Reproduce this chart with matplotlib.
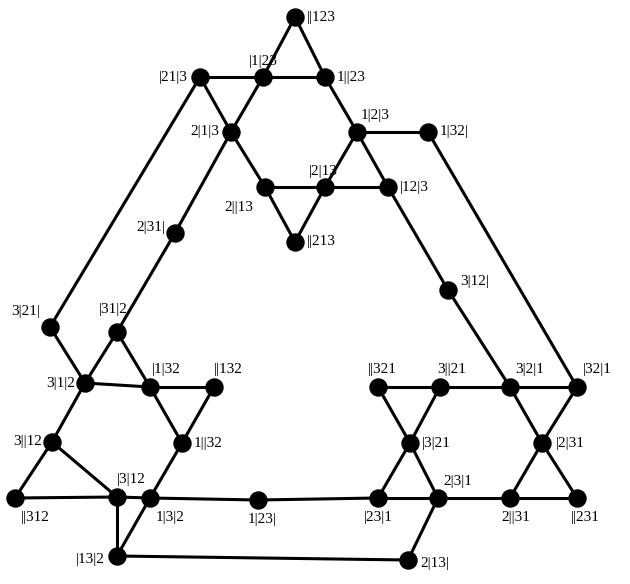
import matplotlib
matplotlib.use("Agg")
import matplotlib.pyplot as plt

# node names and positions (pixel units)
names = ["||123", "|1|23", "1||23", "|21|3", "2|1|3", "1|2|3", "1|32|", "|2|13", "2||13",
         "|12|3", "||213", "2|31|", "3|12|", "3|21|", "|31|2", "3|1|2", "|1|32", "||132",
         "3||12", "1||32", "|3|12", "||312", "1|3|2", "1|23|", "|23|1", "2|3|1", "|13|2",
         "2|13|", "||321", "3||21", "3|2|1", "|32|1", "|3|21", "|2|31", "2||31", "||231"]
xs = [295, 263, 325, 200, 231, 357, 428, 325, 265, 388, 295, 175, 448, 50, 117, 85, 150, 214,
      52, 182, 117, 15, 150, 258, 378, 438, 117, 408, 378, 440, 510, 577, 410, 542, 510, 577]
ys = [17, 77, 77, 77, 132, 132, 132, 187, 187, 187, 242, 233, 290, 327, 332, 383, 387, 387,
      442, 443, 497, 498, 498, 500, 498, 498, 556, 560, 387, 387, 387, 387, 443, 443, 498, 498]

edges = [("|21|3", "|1|23"), ("|1|23", "1||23"), ("||123", "|1|23"), ("||123", "1||23"),
         ("|1|23", "2|1|3"), ("|21|3", "2|1|3"), ("1||23", "1|2|3"), ("2|1|3", "2||13"),
         ("2||13", "|2|13"), ("|2|13", "|12|3"), ("2||13", "||213"), ("|2|13", "||213"),
         ("|2|13", "1|2|3"), ("1|2|3", "|12|3"), ("1|2|3", "1|32|"), ("1|32|", "|32|1"),
         ("|12|3", "3|12|"), ("3|12|", "3|2|1"), ("2|1|3", "2|31|"), ("2|31|", "|31|2"),
         ("|21|3", "3|21|"), ("3|21|", "3|1|2"), ("|31|2", "3|1|2"), ("|31|2", "|1|32"),
         ("3|1|2", "|1|32"), ("|1|32", "||132"), ("||132", "1||32"), ("|1|32", "1||32"),
         ("1||32", "1|3|2"), ("3|1|2", "3||12"), ("3||12", "||312"), ("3||12", "|3|12"),
         ("||312", "|3|12"), ("|3|12", "1|3|2"), ("1|3|2", "1|23|"), ("1|23|", "|23|1"),
         ("|3|12", "|13|2"), ("1|3|2", "|13|2"), ("|13|2", "2|13|"), ("||321", "3||21"),
         ("3||21", "3|2|1"), ("3|2|1", "|32|1"), ("||321", "|3|21"), ("|3|21", "2|3|1"),
         ("3||21", "|3|21"), ("|3|21", "|23|1"), ("3|2|1", "|2|31"), ("|2|31", "||231"),
         ("|32|1", "|2|31"), ("|2|31", "2||31"), ("|23|1", "2|3|1"), ("2|3|1", "2||31"),
         ("2||31", "||231"), ("2|3|1", "2|13|")]

# label offsets (dx, dy, ha)
offs = {
    "||123": (12, 0, "left"), "|1|23": (0, -16, "center"), "1||23": (12, 0, "left"),
    "|21|3": (-12, 0, "right"), "2|1|3": (-12, 0, "right"), "1|2|3": (4, -16, "left"),
    "1|32|": (12, 0, "left"), "|2|13": (-2, -16, "center"), "2||13": (-12, 20, "right"),
    "|12|3": (12, 0, "left"), "||213": (12, 0, "left"), "2|31|": (-10, -6, "right"),
    "3|12|": (12, -8, "left"), "3|21|": (-10, -16, "right"), "|31|2": (-4, -22, "center"),
    "3|1|2": (-10, 0, "right"), "|1|32": (16, -18, "center"), "||132": (14, -18, "center"),
    "3||12": (-10, 0, "right"), "1||32": (12, 0, "left"), "|3|12": (14, -18, "center"),
    "||312": (20, 20, "center"), "1|3|2": (20, 20, "center"), "1|23|": (4, 20, "center"),
    "|23|1": (0, 20, "center"), "2|3|1": (20, -16, "center"), "|13|2": (-12, 4, "right"),
    "2|13|": (12, 4, "left"), "||321": (4, -18, "center"), "3||21": (12, -18, "center"),
    "3|2|1": (20, -18, "center"), "|32|1": (20, -18, "center"), "|3|21": (12, 0, "left"),
    "|2|31": (14, 0, "left"), "2||31": (6, 20, "center"), "||231": (8, 20, "center"),
}

pos = dict(zip(names, zip(xs, ys)))

fig = plt.figure(figsize=(6.3, 5.84), dpi=100)
ax = fig.add_axes([0, 0, 1, 1])
ax.set_xlim(0, 630)
ax.set_ylim(584, 0)
ax.axis("off")

for a, b in edges:
    (x1, y1), (x2, y2) = pos[a], pos[b]
    ax.plot([x1, x2], [y1, y2], color="black", lw=2.2, zorder=1)

ax.scatter(xs, ys, s=150, color="black", zorder=2)

for n in names:
    dx, dy, ha = offs[n]
    x, y = pos[n]
    ax.text(x + dx, y + dy, n, ha=ha, va="center", fontsize=11,
            family="Liberation Serif")

fig.savefig("out.png", dpi=100)
